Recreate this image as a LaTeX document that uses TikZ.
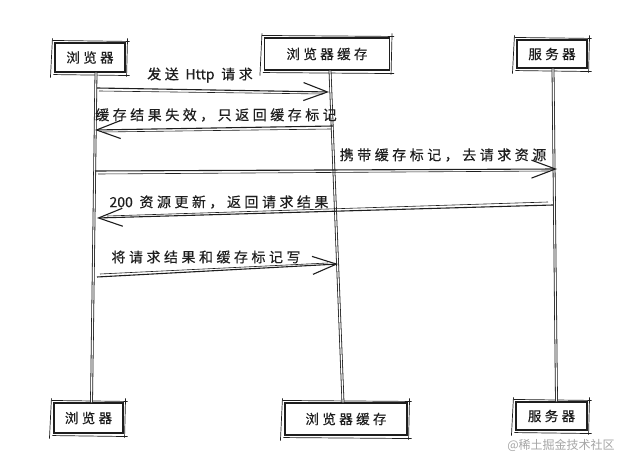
\documentclass[tikz,border=0pt]{standalone}
\usepackage{fontspec}
\setmainfont{Noto Sans CJK SC}
\newfontfamily\hand[LetterSpace=25,FakeBold=0.4]{Noto Sans CJK SC}
\newfontfamily\plain[FakeBold=0.4]{Noto Sans CJK SC}
\usetikzlibrary{arrows.meta}
\definecolor{ink}{HTML}{1E1E1E}
\newcommand\roughbox[1]{%
  \draw[ink, line width=0.7pt] ([shift={(-2,-2)}]#1.north west) -- ([shift={(4,-1)}]#1.north east);
  \draw[ink, line width=0.7pt] ([shift={(2,-4)}]#1.north east) -- ([shift={(1,4)}]#1.south east);
  \draw[ink, line width=0.7pt] ([shift={(-1,2)}]#1.south west) -- ([shift={(4,3)}]#1.south east);
  \draw[ink, line width=0.7pt] ([shift={(-2,-4)}]#1.north west) -- ([shift={(-4,5)}]#1.south west);
}
\begin{document}
\begin{tikzpicture}[x=1pt,y=-1pt,
  actor/.style={draw=ink, line width=1.1pt, inner sep=0pt, text=ink,
    font=\hand\fontsize{13.5}{13.5}\selectfont},
  msg/.style={inner sep=0pt, text=ink, font=\hand\fontsize{14}{14}\selectfont},
  life/.style={draw=ink, line width=0.8pt, double=white, double distance=1.2pt},
  call/.style={draw=ink, line width=1.1pt,
    -{Straight Barb[length=24pt,width=18pt,line width=1.1pt]}},
  echo/.style={draw=ink, line width=0.6pt}]
\useasboundingbox (0,0) rectangle (624,457);
\fill[white] (0,0) rectangle (624,457);

% actors top
\node[actor, minimum width=70pt, minimum height=29pt] (b1) at (90,57.5) {浏览器};
\node[actor, minimum width=125pt, minimum height=32pt] (b2) at (327,54) {浏览器缓存};
\node[actor, minimum width=70pt, minimum height=28pt] (b3) at (552,54) {服务器};
% actors bottom
\node[actor, minimum width=69pt, minimum height=30pt] (e1) at (88.5,418) {浏览器};
\node[actor, minimum width=122pt, minimum height=32pt] (e2) at (346,419) {浏览器缓存};
\node[actor, minimum width=71pt, minimum height=28pt] (e3) at (551.5,416) {服务器};
\roughbox{b1}\roughbox{b2}\roughbox{b3}
\roughbox{e1}\roughbox{e2}\roughbox{e3}

% lifelines
\draw[life] ([xshift=6pt]b1.south) -- ([xshift=3pt]e1.north);
\draw[life] ([xshift=3pt]b2.south) -- ([xshift=-3pt]e2.north);
\draw[life] ([xshift=1pt]b3.south) -- ([xshift=5pt]e3.north);

% message end points
\coordinate (a1s) at (97,88);   \coordinate (a1e) at (329,92);
\coordinate (a2s) at (333,126); \coordinate (a2e) at (95,130);
\coordinate (a3s) at (95,171);  \coordinate (a3e) at (557,169);
\coordinate (a4s) at (553,205); \coordinate (a4e) at (97,218);
\coordinate (a5s) at (97,277);  \coordinate (a5e) at (338,264);

\draw[call] (a1s) -- (a1e);
\draw[echo] ([shift={(2,3)}]a1s) -- ([shift={(-6,2)}]a1e);
\draw[call] (a2s) -- (a2e);
\draw[echo] ([shift={(-2,3)}]a2s) -- ([shift={(8,2)}]a2e);
\draw[call] (a3s) -- (a3e);
\draw[echo] ([shift={(3,3)}]a3s) -- ([shift={(-8,2)}]a3e);
\draw[call] (a4s) -- (a4e);
\draw[echo] ([shift={(-5,-3)}]a4s) -- ([shift={(10,-2)}]a4e);
\draw[call] (a5s) -- (a5e);
\draw[echo] ([shift={(3,-3)}]a5s) -- ([shift={(-10,-1)}]a5e);

% labels
\node[msg] (t1) at (200,75) {发送 {\plain Http} 请求};
\node[msg] (t2) at (216,115) {缓存结果失效，只返回缓存标记};
\node[msg] (t3) at (443,155) {携带缓存标记，去请求资源};
\node[msg] (t4) at (219,202) {{\plain 200} 资源更新，返回请求结果};
\node[msg] (t5) at (206,257) {将请求结果和缓存标记写};

\node[text=black!35, inner sep=0pt, font=\fontsize{12}{12}\selectfont] (wm) at (561,445) {@稀土掘金技术社区};
\end{tikzpicture}
\end{document}
